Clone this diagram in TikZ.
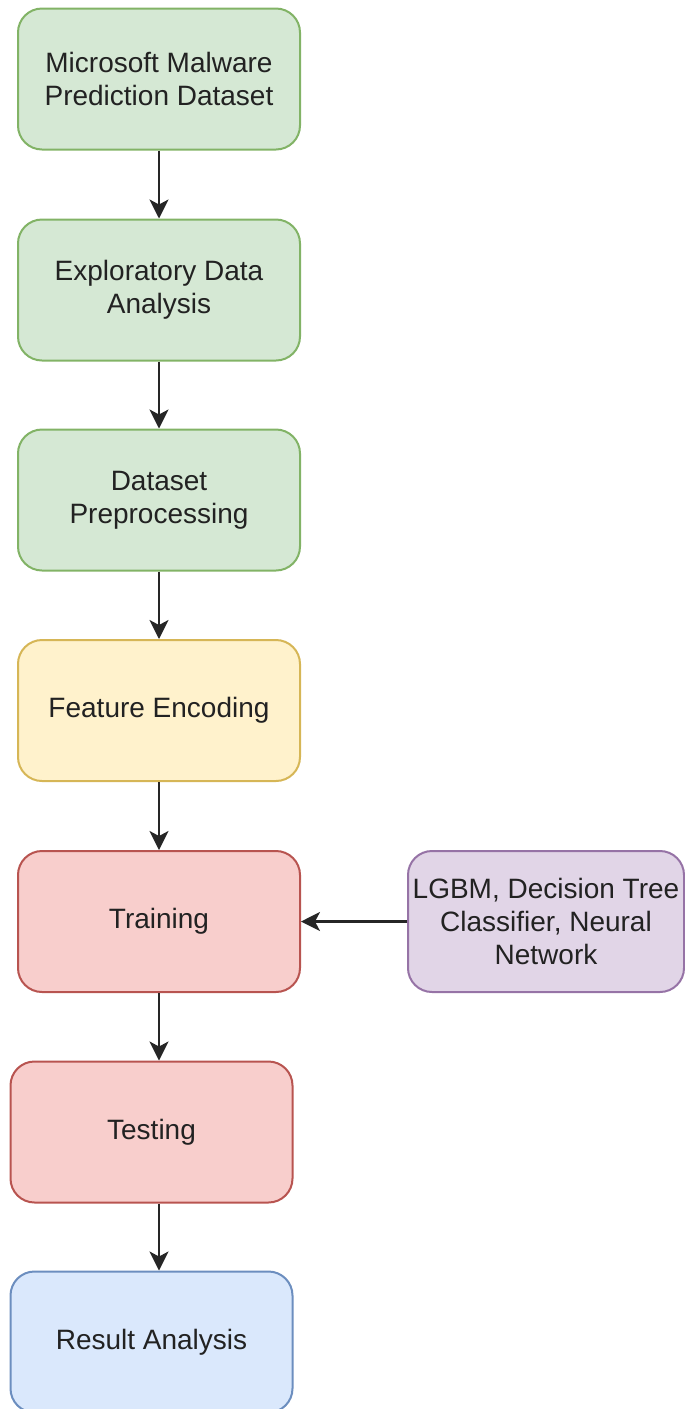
\documentclass[tikz,border=0pt]{standalone}
\usepackage{fontspec}
\setmainfont{Liberation Sans}
\usetikzlibrary{arrows.meta}
\definecolor{gfill}{HTML}{D5E8D4}\definecolor{gline}{HTML}{82B366}
\definecolor{yfill}{HTML}{FFF2CC}\definecolor{yline}{HTML}{D6B656}
\definecolor{rfill}{HTML}{F8CECC}\definecolor{rline}{HTML}{B85450}
\definecolor{pfill}{HTML}{E1D5E7}\definecolor{pline}{HTML}{9673A6}
\definecolor{bfill}{HTML}{DAE8FC}\definecolor{bline}{HTML}{6C8EBF}
\definecolor{txt}{HTML}{222222}
\tikzset{
  box/.style={rectangle, rounded corners=24pt, line width=2pt,
    minimum width=282pt, minimum height=141pt, align=center,
    text=txt, font=\fontsize{28}{33}\selectfont, inner sep=0pt},
  greenbox/.style={box, fill=gfill, draw=gline},
  yellowbox/.style={box, fill=yfill, draw=yline},
  redbox/.style={box, fill=rfill, draw=rline},
  purplebox/.style={box, fill=pfill, draw=pline, minimum width=276pt},
  bluebox/.style={box, fill=bfill, draw=bline},
  flow/.style={line width=2.3pt, draw=black!85,
    -{Stealth[length=19pt, width=19pt, inset=5pt]}}
}
\begin{document}
\begin{tikzpicture}[x=1pt, y=-1pt]
  \useasboundingbox (0,0) rectangle (685,1409);
  \clip (0,0) rectangle (685,1409);
  \node[greenbox]  (ds)  at (159,79)    {Microsoft Malware\\Prediction Dataset};
  \node[greenbox]  (eda) at (159,290)   {Exploratory Data\\Analysis};
  \node[greenbox]  (pre) at (159,500)   {Dataset\\Preprocessing};
  \node[yellowbox] (enc) at (159,710.5) {Feature Encoding};
  \node[redbox]    (tr)  at (159,921.5) {Training};
  \node[purplebox] (mod) at (546,921.5) {LGBM, Decision Tree\\Classifier, Neural\\Network};
  \node[redbox]    (te)  at (151.5,1132) {Testing};
  \node[bluebox]   (res) at (151.5,1342) {Result Analysis};

  \draw[flow] (ds) -- (eda);
  \draw[flow] (eda) -- (pre);
  \draw[flow] (pre) -- (enc);
  \draw[flow] (enc) -- (tr);
  \draw[flow] (mod) -- (tr);
  \draw[flow] (tr.south) -- (te.north -| tr.south);
  \draw[flow] (te.south -| tr.south) -- (res.north -| tr.south);
\end{tikzpicture}
\end{document}
